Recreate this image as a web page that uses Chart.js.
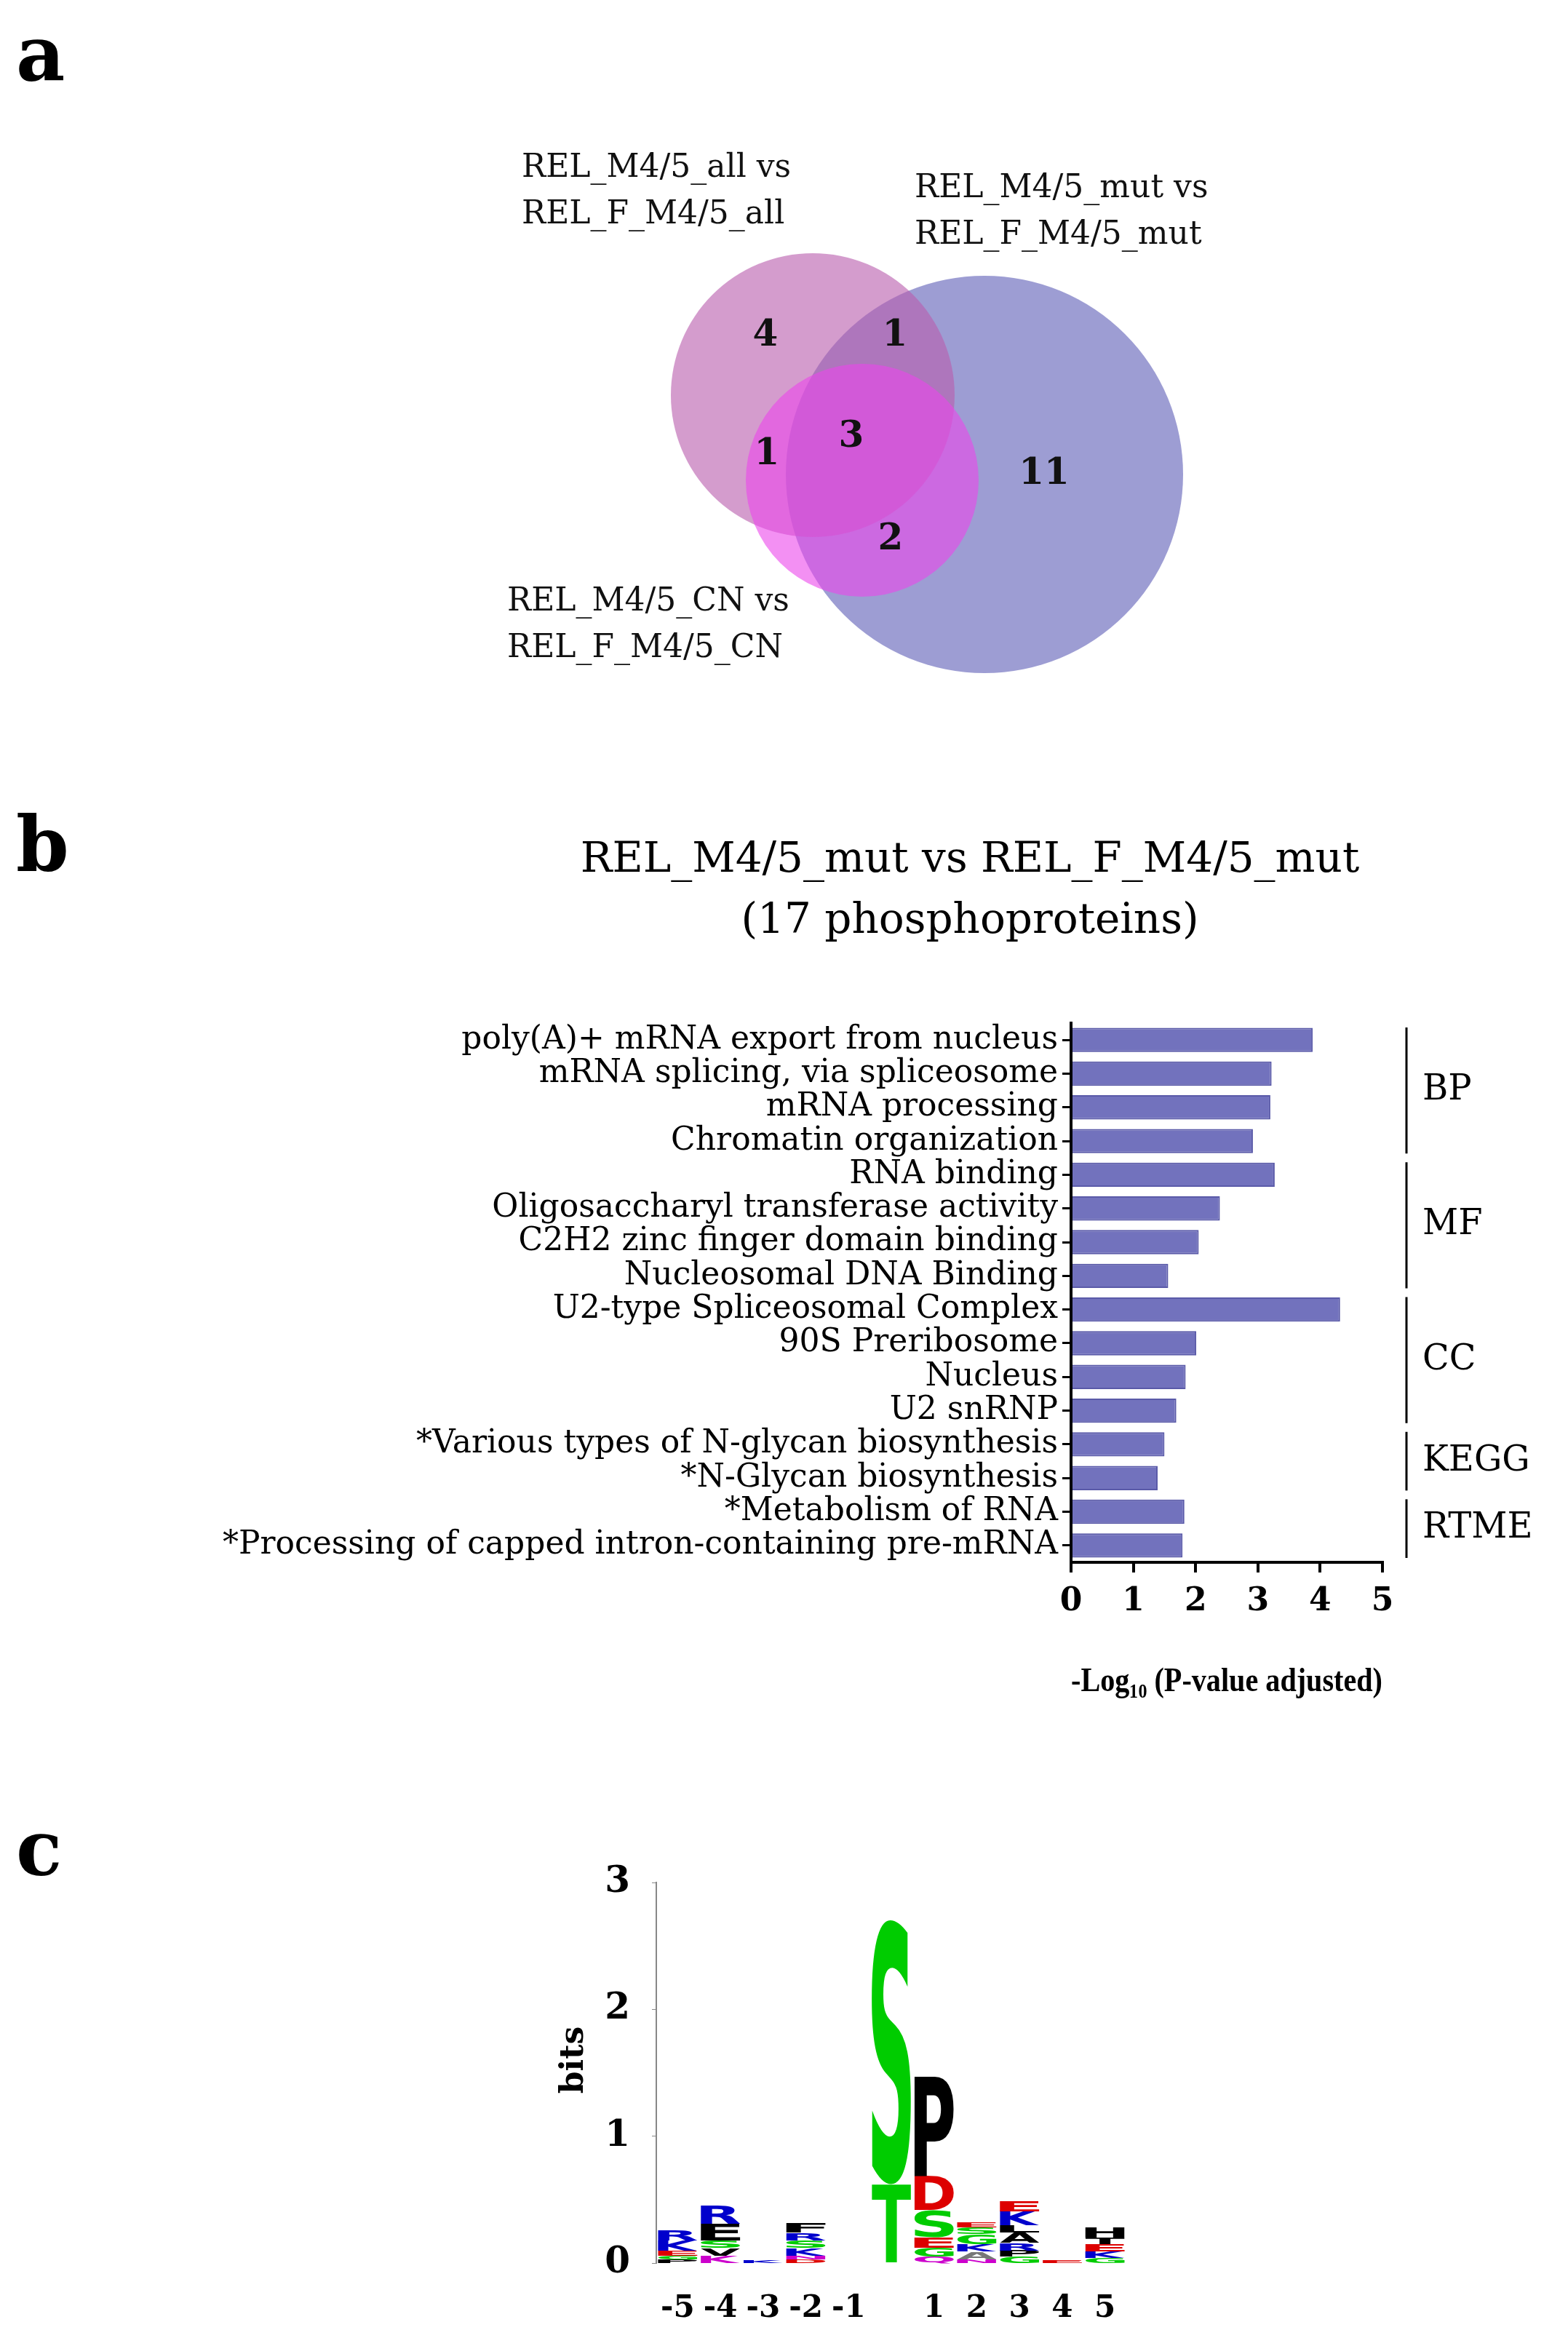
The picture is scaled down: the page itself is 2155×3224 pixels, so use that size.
<!DOCTYPE html>
<html>
<head>
<meta charset="utf-8">
<script src="https://cdn.jsdelivr.net/npm/chart.js@4/dist/chart.umd.min.js"></script>
<style>
  body { margin: 0; background: #fff; }
  .box { position: absolute; left: 0; width: 2155px; }
</style>
</head>
<body>
<div class="box" style="top:0;height:1000px"><canvas id="venn"></canvas></div>
<div class="box" style="top:1100px;height:1300px"><canvas id="bars"></canvas></div>
<div class="box" style="top:2450px;height:774px"><canvas id="logo"></canvas></div>
<script>
// ---- panel a: venn
const vennSets = ['all', 'mut', 'CN'];
const vennCircles = [
  { x: 1117, y: 543, r: 195 },
  { x: 1353, y: 652, r: 273 },
  { x: 1185, y: 660, r: 160 }
];
const vennColors = ['rgba(185,95,175,0.62)', 'rgba(110,110,190,0.68)', 'rgba(235,70,235,0.6)'];
const vennCounts = ['4', '1', '1', '3', '11', '2'];
const vennCountPos = [[1052, 462], [1230, 462], [1054, 625], [1170, 601], [1435, 652], [1224, 742]];
const vennLabels = [
  ['REL_M4/5_all vs', 'REL_F_M4/5_all'],
  ['REL_M4/5_mut vs', 'REL_F_M4/5_mut'],
  ['REL_M4/5_CN vs', 'REL_F_M4/5_CN']
];
const vennLabelPos = [[717, 232], [1257, 260], [697, 828]];

// ---- panel b: enrichment bars
const terms = [
  'poly(A)+ mRNA export from nucleus', 'mRNA splicing, via spliceosome', 'mRNA processing',
  'Chromatin organization', 'RNA binding', 'Oligosaccharyl transferase activity',
  'C2H2 zinc finger domain binding', 'Nucleosomal DNA Binding', 'U2-type Spliceosomal Complex',
  '90S Preribosome', 'Nucleus', 'U2 snRNP', '*Various types of N-glycan biosynthesis',
  '*N-Glycan biosynthesis', '*Metabolism of RNA', '*Processing of capped intron-containing pre-mRNA'
];
const logP = [3.88, 3.22, 3.2, 2.92, 3.27, 2.39, 2.05, 1.56, 4.32, 2.01, 1.84, 1.69, 1.5, 1.39, 1.82, 1.79];
const groupNames = ['BP', 'MF', 'CC', 'KEGG', 'RTME'];
const groupFirst = [0, 4, 8, 12, 14];
const groupLast = [3, 7, 11, 13, 15];

// ---- panel c: sequence logo (letters bottom to top: letter, bits, colour)
const logoPositions = ['-5', '-4', '-3', '-2', '-1', '', '1', '2', '3', '4', '5'];
const logoStacks = [
  [['P', 0.03, '#000'], ['G', 0.03, '#0c0'], ['E', 0.04, '#d00'], ['K', 0.08, '#00c'], ['R', 0.08, '#00c']],
  [['K', 0.06, '#c0c'], ['V', 0.06, '#000'], ['S', 0.06, '#0c0'], ['E', 0.13, '#000'], ['R', 0.14, '#00c']],
  [['K', 0.02, '#00c']],
  [['D', 0.03, '#d00'], ['N', 0.03, '#c0c'], ['K', 0.06, '#00c'], ['S', 0.06, '#0c0'], ['R', 0.06, '#00c'], ['F', 0.07, '#000']],
  [],
  [['T', 0.62, '#0c0'], ['S', 2.09, '#0c0']],
  [['Q', 0.05, '#c0c'], ['G', 0.07, '#0c0'], ['E', 0.08, '#d00'], ['S', 0.22, '#0c0'], ['D', 0.27, '#d00'], ['P', 0.79, '#000']],
  [['N', 0.03, '#c0c'], ['A', 0.06, '#777'], ['K', 0.06, '#00c'], ['G', 0.08, '#0c0'], ['S', 0.05, '#0c0'], ['E', 0.04, '#d00']],
  [['G', 0.05, '#0c0'], ['P', 0.05, '#000'], ['R', 0.06, '#00c'], ['A', 0.08, '#000'], ['L', 0.06, '#000'], ['K', 0.11, '#00c'], ['E', 0.08, '#d00']],
  [['E', 0.02, '#d00']],
  [['G', 0.04, '#0c0'], ['K', 0.05, '#00c'], ['E', 0.06, '#d00'], ['T', 0.05, '#000'], ['H', 0.08, '#000']]
];
const logoTicks = [0, 1, 2, 3];

const SERIF = '"DejaVu Serif", "Liberation Serif", serif';

function panelLetter(ctx, t, x, y) {
  ctx.save();
  ctx.font = 'bold 104px ' + SERIF;
  ctx.fillStyle = '#000';
  ctx.textBaseline = 'middle';
  ctx.fillText(t, x, y);
  ctx.restore();
}

// venn: circle centres are scatter points, discs drawn with scale-converted radius
new Chart(document.getElementById('venn'), {
  type: 'scatter',
  data: {
    labels: vennSets,
    datasets: [1, 0, 2].map(i => ({
      label: vennSets[i],
      data: [vennCircles[i]],
      backgroundColor: vennColors[i],
      pointRadius: 0
    }))
  },
  options: {
    responsive: true, maintainAspectRatio: false, animation: false,
    layout: { padding: 0 },
    plugins: { legend: { display: false }, tooltip: { enabled: false } },
    scales: {
      x: { type: 'linear', min: 0, max: 2155, display: false },
      y: { type: 'linear', min: 0, max: 1000, reverse: true, display: false }
    }
  },
  plugins: [{
    id: 'vennText',
    afterDatasetsDraw(chart) {
      const { ctx, scales: { x, y } } = chart;
      chart.data.datasets.forEach(ds => {
        const c = ds.data[0];
        const px = x.getPixelForValue(c.x), py = y.getPixelForValue(c.y);
        const pr = x.getPixelForValue(c.x + c.r) - px;
        ctx.save();
        ctx.fillStyle = ds.backgroundColor;
        ctx.beginPath();
        ctx.arc(px, py, pr, 0, Math.PI * 2);
        ctx.fill();
        ctx.restore();
      });
      panelLetter(ctx, 'a', 22, 84);
      ctx.save();
      ctx.fillStyle = '#111';
      ctx.font = 'bold 50px ' + SERIF;
      ctx.textAlign = 'center';
      ctx.textBaseline = 'middle';
      vennCounts.forEach((c, i) => ctx.fillText(c, x.getPixelForValue(vennCountPos[i][0]), y.getPixelForValue(vennCountPos[i][1])));
      ctx.font = '44px ' + SERIF;
      ctx.textAlign = 'left';
      vennLabels.forEach((lines, i) => lines.forEach((l, j) =>
        ctx.fillText(l, x.getPixelForValue(vennLabelPos[i][0]), y.getPixelForValue(vennLabelPos[i][1] + j * 64))));
      ctx.restore();
    }
  }]
});

// bars
new Chart(document.getElementById('bars'), {
  type: 'bar',
  data: {
    labels: terms,
    datasets: [{
      data: logP,
      backgroundColor: '#7272bd',
      borderColor: '#5a5aa8',
      borderWidth: 2,
      barPercentage: 0.72,
      categoryPercentage: 1
    }]
  },
  options: {
    indexAxis: 'y',
    responsive: true, maintainAspectRatio: false, animation: false,
    layout: { padding: { top: 306, right: 255, left: 0, bottom: 0 } },
    plugins: { legend: { display: false }, tooltip: { enabled: false } },
    scales: {
      x: {
        min: 0, max: 5,
        ticks: { stepSize: 1, color: '#000', font: { family: SERIF, size: 44, weight: 'bold' }, padding: 14 },
        grid: { drawOnChartArea: false, color: '#000', lineWidth: 4, tickLength: 14 },
        border: { color: '#000', width: 4 },
        title: { display: true, text: '-Log\u2081\u2080 (P-value adjusted)', color: '#000', font: { family: '"Liberation Serif", serif', size: 46, weight: 'bold' }, padding: { top: 20, bottom: 60 } },
        afterFit(s) { s.height = 253; }
      },
      y: {
        offset: true,
        ticks: { color: '#000', font: { family: SERIF, size: 44 }, padding: 6, autoSkip: false },
        grid: { drawOnChartArea: false, color: '#000', lineWidth: 3, tickLength: 12, offset: false },
        border: { color: '#000', width: 4 },
        afterFit(s) { s.width = 1472; }
      }
    }
  },
  plugins: [{
    id: 'groups',
    afterDraw(chart) {
      const { ctx, scales: { y } } = chart;
      panelLetter(ctx, 'b', 22, 70);
      ctx.save();
      ctx.fillStyle = '#000';
      ctx.textAlign = 'center';
      ctx.textBaseline = 'middle';
      ctx.font = '58px ' + SERIF;
      ctx.fillText('REL_M4/5_mut vs REL_F_M4/5_mut', 1333, 83);
      ctx.fillText('(17 phosphoproteins)', 1333, 167);
      ctx.strokeStyle = '#000';
      ctx.lineWidth = 3;
      ctx.font = '48px ' + SERIF;
      ctx.textAlign = 'left';
      groupNames.forEach((g, i) => {
        const half = (y.getPixelForValue(1) - y.getPixelForValue(0)) / 2;
        const top = y.getPixelForValue(groupFirst[i]) - half + 6;
        const bot = y.getPixelForValue(groupLast[i]) + half - 6;
        ctx.beginPath();
        ctx.moveTo(1933, top);
        ctx.lineTo(1933, bot);
        ctx.stroke();
        ctx.fillText(g, 1955, (top + bot) / 2);
      });
      ctx.restore();
    }
  }]
});

// logo
const logoTotals = logoStacks.map(s => s.reduce((a, l) => a + l[1], 0));
new Chart(document.getElementById('logo'), {
  type: 'bar',
  data: {
    labels: logoPositions,
    datasets: [{ data: logoTotals, backgroundColor: 'rgba(0,0,0,0)' }]
  },
  options: {
    responsive: true, maintainAspectRatio: false, animation: false,
    layout: { padding: { top: 137, right: 607, left: 0, bottom: 0 } },
    plugins: { legend: { display: false }, tooltip: { enabled: false } },
    scales: {
      x: {
        ticks: { color: '#000', font: { family: SERIF, size: 42, weight: 'bold' }, padding: 30, maxRotation: 0, autoSkip: false },
        grid: { display: false },
        border: { display: false },
        afterFit(s) { s.height = 114; }
      },
      y: {
        min: 0, max: 3,
        afterBuildTicks(s) { s.ticks = logoTicks.map(v => ({ value: v })); },
        ticks: { color: '#000', font: { family: SERIF, size: 50, weight: 'bold' }, padding: 30 },
        grid: { drawOnChartArea: false, color: '#888', tickLength: 6 },
        border: { color: '#888', width: 2 },
        afterFit(s) { s.width = 902; }
      }
    }
  },
  plugins: [{
    id: 'letters',
    afterDatasetsDraw(chart) {
      const { ctx, scales: { x, y } } = chart;
      panelLetter(ctx, 'c', 22, 100);
      ctx.save();
      ctx.translate(790, y.getPixelForValue(1.6));
      ctx.rotate(-Math.PI / 2);
      ctx.font = 'bold 44px ' + SERIF;
      ctx.textAlign = 'center';
      ctx.textBaseline = 'middle';
      ctx.fillStyle = '#000';
      ctx.fillText('bits', 0, 0);
      ctx.restore();
      const colW = (x.getPixelForValue(1) - x.getPixelForValue(0)) * 0.92;
      ctx.save();
      ctx.font = 'bold 200px "DejaVu Sans", sans-serif';
      ctx.textAlign = 'left';
      ctx.textBaseline = 'alphabetic';
      logoStacks.forEach((stack, i) => {
        let base = 0;
        const cx = x.getPixelForValue(i);
        stack.forEach(([ch, h, col]) => {
          const yb = y.getPixelForValue(base), yt = y.getPixelForValue(base + h);
          base += h;
          const m = ctx.measureText(ch);
          const gw = m.actualBoundingBoxLeft + m.actualBoundingBoxRight;
          const gh = m.actualBoundingBoxAscent + m.actualBoundingBoxDescent;
          ctx.save();
          ctx.fillStyle = col;
          ctx.translate(cx - colW / 2, yb);
          ctx.scale(colW / gw, (yb - yt) / gh);
          ctx.fillText(ch, m.actualBoundingBoxLeft, -m.actualBoundingBoxDescent);
          ctx.restore();
        });
      });
      ctx.restore();
    }
  }]
});
</script>
</body>
</html>
